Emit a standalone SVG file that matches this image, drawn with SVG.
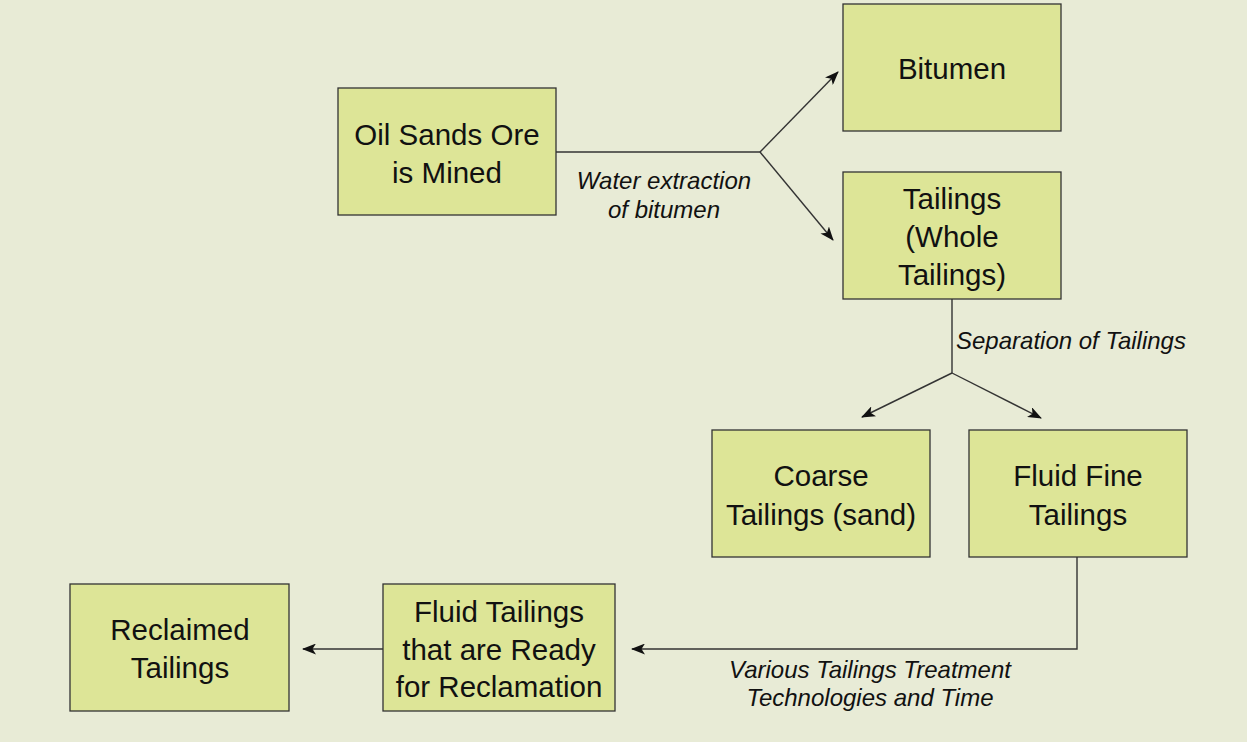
<svg xmlns="http://www.w3.org/2000/svg" width="1247" height="742" viewBox="0 0 1247 742">
<style>
.box{fill:#dde597;stroke:#333333;stroke-width:1.3}
.t{font-family:"Liberation Sans",Arial,sans-serif;font-size:29.5px;fill:#111;text-anchor:middle}
.l{font-family:"Liberation Sans",Arial,sans-serif;font-size:24px;font-style:italic;fill:#111}
.c{fill:none;stroke:#333333;stroke-width:1.4}
</style>
<defs>
<marker id="ah" viewBox="0 0 14 11" refX="13" refY="5.5" markerWidth="14" markerHeight="11" markerUnits="userSpaceOnUse" orient="auto">
<path d="M0,0 L14,5.5 L0,11 L3.5,5.5 Z" fill="#111"/>
</marker>
</defs>
<rect width="1247" height="742" fill="#e8ebd6"/>
<g id="connectors">
<path class="c" d="M556,152 H760"/>
<path class="c" d="M760,152 L838,72" marker-end="url(#ah)"/>
<path class="c" d="M760,152 L833,240" marker-end="url(#ah)"/>
<path class="c" d="M952,299 V373"/>
<path class="c" d="M952,373 L862,417" marker-end="url(#ah)"/>
<path class="c" d="M952,373 L1041,418" marker-end="url(#ah)"/>
<path class="c" d="M1077,557 V649 H632" marker-end="url(#ah)"/>
<path class="c" d="M383,649 H303" marker-end="url(#ah)"/>
<text class="l" text-anchor="middle" x="664" y="189">Water extraction</text>
<text class="l" text-anchor="middle" x="664" y="218">of bitumen</text>
<text class="l" x="956" y="349">Separation of Tailings</text>
<text class="l" text-anchor="middle" x="870" y="678">Various Tailings Treatment</text>
<text class="l" text-anchor="middle" x="870" y="706">Technologies and Time</text>
</g>
<g id="oilsands">
<rect class="box" x="338" y="88" width="218" height="127"/>
<text class="t" x="447" y="145">Oil Sands Ore</text>
<text class="t" x="447" y="183">is Mined</text>
</g>
<g id="bitumen">
<rect class="box" x="843" y="4" width="218" height="127"/>
<text class="t" x="952" y="79">Bitumen</text>
</g>
<g id="tailings">
<rect class="box" x="843" y="172" width="218" height="127"/>
<text class="t" x="952" y="209">Tailings</text>
<text class="t" x="952" y="247">(Whole</text>
<text class="t" x="952" y="285">Tailings)</text>
</g>
<g id="coarse">
<rect class="box" x="712" y="430" width="218" height="127"/>
<text class="t" x="821" y="486">Coarse</text>
<text class="t" x="821" y="525">Tailings (sand)</text>
</g>
<g id="fft">
<rect class="box" x="969" y="430" width="218" height="127"/>
<text class="t" x="1078" y="486">Fluid Fine</text>
<text class="t" x="1078" y="525">Tailings</text>
</g>
<g id="ready">
<rect class="box" x="383" y="584" width="232" height="127"/>
<text class="t" x="499" y="622">Fluid Tailings</text>
<text class="t" x="499" y="660">that are Ready</text>
<text class="t" x="499" y="697">for Reclamation</text>
</g>
<g id="reclaimed">
<rect class="box" x="70" y="584" width="219" height="127"/>
<text class="t" x="180" y="640">Reclaimed</text>
<text class="t" x="180" y="678">Tailings</text>
</g>
</svg>
